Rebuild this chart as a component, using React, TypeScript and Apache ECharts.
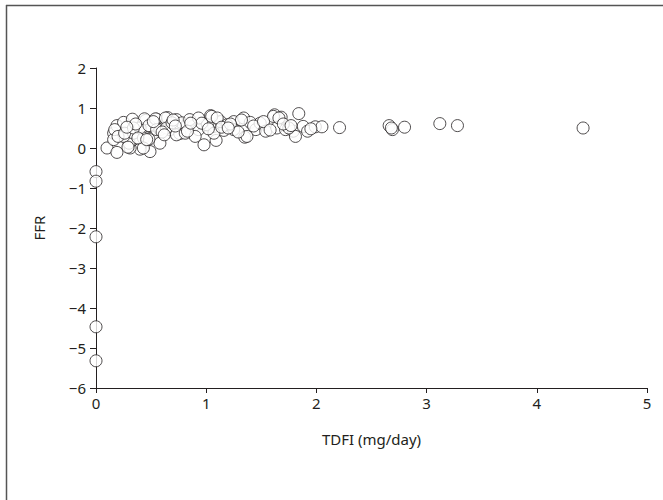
import React, { useEffect, useRef } from "react";
import * as echarts from "echarts";

// TDFI (mg/day) vs FFR
const tdfi: number[] = [
  0.0, 0.0, 0.0, 0.0, 0.0,
  0.10, 0.19, 0.16, 0.19, 0.25, 0.33, 0.45, 0.55, 0.65, 0.73,
  0.49, 0.58, 0.67, 0.76, 0.78, 0.88, 0.99, 1.04, 1.07, 1.16,
  1.25, 1.34, 1.40, 1.35, 0.98, 1.09, 0.58, 0.49, 0.40, 0.31,
  0.30, 0.25, 0.34, 0.43, 0.40, 0.48, 0.43, 0.85, 0.93, 1.13,
  1.19, 1.45, 1.49, 1.54, 1.62, 1.68, 1.64, 1.72, 1.79, 1.81,
  1.84, 1.88, 1.92, 1.99, 2.05, 2.21, 2.66, 2.69, 2.68, 2.80,
  3.12, 3.28, 4.42,
  0.16, 0.17, 0.20, 0.26, 0.34, 0.29, 0.38, 0.44, 0.48, 0.46,
  0.54, 0.55, 0.63, 0.64, 0.69, 0.70, 0.73, 0.81, 0.90, 0.93,
  1.01, 1.05, 1.10, 1.07, 1.25, 1.32, 1.37, 1.61, 1.66, 1.75,
  0.36, 0.52, 0.60, 0.72, 0.83, 0.96, 1.02, 1.14, 1.22, 1.29,
  1.43, 1.52, 1.58, 1.70, 1.77, 1.95, 0.28, 0.62, 0.86, 1.20
];
const ffr: number[] = [
  -0.59, -0.83, -2.22, -4.47, -5.32,
  0.00, -0.11, 0.37, 0.56, 0.64, 0.72, 0.69, 0.72, 0.76, 0.71,
  0.54, 0.46, 0.46, 0.36, 0.63, 0.54, 0.58, 0.81, 0.54, 0.44,
  0.66, 0.75, 0.64, 0.27, 0.08, 0.19, 0.12, -0.09, -0.03, 0.00,
  0.12, 0.29, 0.37, 0.25, 0.50, 0.22, 0.00, 0.71, 0.46, 0.66,
  0.58, 0.46, 0.62, 0.42, 0.83, 0.77, 0.50, 0.46, 0.42, 0.29,
  0.86, 0.54, 0.42, 0.53, 0.53, 0.51, 0.56, 0.46, 0.50, 0.52,
  0.61, 0.56, 0.50,
  0.21, 0.46, 0.29, 0.37, 0.50, 0.02, 0.25, 0.73, 0.56, 0.21,
  0.73, 0.46, 0.75, 0.50, 0.63, 0.70, 0.33, 0.37, 0.29, 0.75,
  0.58, 0.79, 0.75, 0.37, 0.46, 0.70, 0.29, 0.79, 0.75, 0.50,
  0.60, 0.66, 0.40, 0.55, 0.42, 0.62, 0.48, 0.52, 0.60, 0.40,
  0.55, 0.66, 0.45, 0.60, 0.56, 0.48, 0.52, 0.33, 0.62, 0.50
];
const xTicks = { min: 0, max: 5, interval: 1 };
const yTicks = { min: -6, max: 2, interval: 1 };

const INK = "#231f20";
const FONT = "'Noto Sans', 'Open Sans', sans-serif";

export default function App() {
  const ref = useRef<HTMLDivElement>(null);
  useEffect(() => {
    if (!ref.current) return;
    const chart = echarts.init(ref.current, undefined, { renderer: "svg" });
    const minus = (v: number) => String(v).replace("-", "\u2212");
    chart.setOption({
      animation: false,
      backgroundColor: "#ffffff",
      grid: { left: 96, right: 16, top: 68, bottom: 112, containLabel: false },
      xAxis: {
        type: "value",
        ...xTicks,
        name: "TDFI (mg/day)",
        nameLocation: "middle",
        nameGap: 43,
        nameTextStyle: { color: INK, fontSize: 15, fontFamily: FONT },
        axisLine: { show: true, onZero: false, lineStyle: { color: INK, width: 1 } },
        axisTick: { show: true, length: 5, inside: false, lineStyle: { color: INK, width: 1 } },
        axisLabel: { color: INK, fontSize: 15, fontFamily: FONT, margin: 7, formatter: minus },
        splitLine: { show: false },
      },
      yAxis: {
        type: "value",
        ...yTicks,
        name: "FFR",
        nameLocation: "middle",
        nameGap: 50,
        nameTextStyle: { color: INK, fontSize: 15, fontFamily: FONT },
        axisLine: { show: true, onZero: false, lineStyle: { color: INK, width: 1 } },
        axisTick: { show: true, length: 6, inside: false, lineStyle: { color: INK, width: 1 } },
        axisLabel: { color: INK, fontSize: 15, fontFamily: FONT, margin: 10, formatter: minus },
        splitLine: { show: false },
      },
      series: [
        {
          type: "scatter",
          data: tdfi.map((x, i) => [x, ffr[i]]),
          symbol: "circle",
          symbolSize: 12,
          itemStyle: { color: "#ffffff", borderColor: INK, borderWidth: 1 },
          clip: false,
        },
      ],
      graphic: [
        { type: "line", shape: { x1: 6, y1: 5.5, x2: 663, y2: 5.5 }, style: { stroke: "#555555", lineWidth: 1.5 } },
        { type: "line", shape: { x1: 6.5, y1: 5, x2: 6.5, y2: 500 }, style: { stroke: "#555555", lineWidth: 1.5 } },
      ],
    });
    return () => chart.dispose();
  }, []);
  return (
    <div
      ref={ref}
      style={{ position: "fixed", left: 0, top: 0, width: 663, height: 500 }}
    />
  );
}
